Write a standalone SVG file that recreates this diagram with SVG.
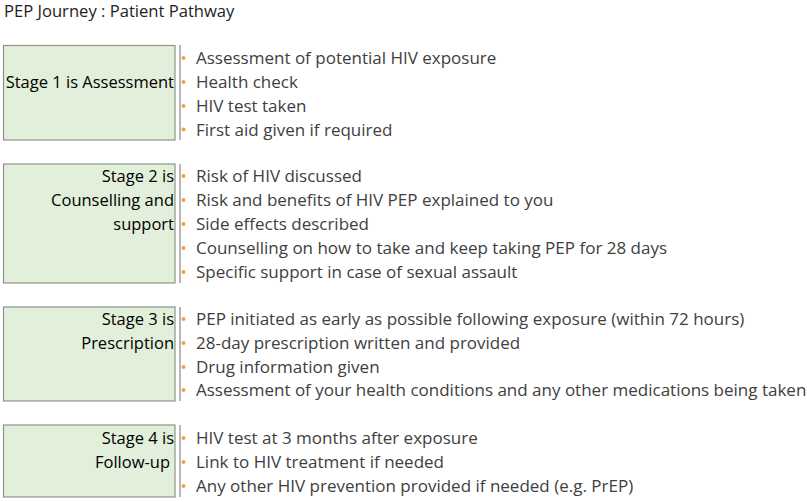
<svg xmlns="http://www.w3.org/2000/svg" width="807" height="502" viewBox="0 0 807 502">
<style>
.box{fill:#e2efda;stroke:#8c9488;stroke-width:1.2}
.sep{stroke:#a0a0a0;stroke-width:1.5}
.lbl{font-family:"Open Sans","Liberation Sans",sans-serif;font-size:16.5px;fill:#000;text-anchor:end}
.it{font-family:"Open Sans","Liberation Sans",sans-serif;font-size:17px;fill:#404040}
.bul{fill:#eda240}
.title{font-family:"Open Sans","Liberation Sans",sans-serif;font-size:16.6px;fill:#222}
</style>
<rect width="807" height="502" fill="#fff"/>
<text class="title" x="4" y="17">PEP Journey : Patient Pathway</text>

<g id="stage1">
<rect class="box" x="3.5" y="45.5" width="171.5" height="94.5"/>
<text class="lbl" x="174" y="88">Stage 1 is Assessment</text>
<line class="sep" x1="180" y1="45" x2="180" y2="140"/>
<circle class="bul" cx="183.5" cy="58" r="2"/><text class="it" x="196" y="64">Assessment of potential HIV exposure</text>
<circle class="bul" cx="183.5" cy="82" r="2"/><text class="it" x="196" y="88">Health check</text>
<circle class="bul" cx="183.5" cy="106" r="2"/><text class="it" x="196" y="112">HIV test taken</text>
<circle class="bul" cx="183.5" cy="129.5" r="2"/><text class="it" x="196" y="135.5">First aid given if required</text>
</g>

<g id="stage2">
<rect class="box" x="3.5" y="164" width="171.5" height="119"/>
<text class="lbl" x="174" y="182">Stage 2 is</text>
<text class="lbl" x="174" y="206">Counselling and</text>
<text class="lbl" x="174" y="230">support</text>
<line class="sep" x1="180" y1="164" x2="180" y2="283"/>
<circle class="bul" cx="183.5" cy="176" r="2"/><text class="it" x="196" y="182">Risk of HIV discussed</text>
<circle class="bul" cx="183.5" cy="200" r="2"/><text class="it" x="196" y="206">Risk and benefits of HIV PEP explained to you</text>
<circle class="bul" cx="183.5" cy="224" r="2"/><text class="it" x="196" y="230">Side effects described</text>
<circle class="bul" cx="183.5" cy="248" r="2"/><text class="it" x="196" y="254">Counselling on how to take and keep taking PEP for 28 days</text>
<circle class="bul" cx="183.5" cy="272" r="2"/><text class="it" x="196" y="278">Specific support in case of sexual assault</text>
</g>

<g id="stage3">
<rect class="box" x="3.5" y="307" width="171.5" height="94"/>
<text class="lbl" x="174" y="325">Stage 3 is</text>
<text class="lbl" x="174" y="349">Prescription</text>
<line class="sep" x1="180" y1="307" x2="180" y2="401"/>
<circle class="bul" cx="183.5" cy="319" r="2"/><text class="it" x="196" y="325">PEP initiated as early as possible following exposure (within 72 hours)</text>
<circle class="bul" cx="183.5" cy="343" r="2"/><text class="it" x="196" y="349">28-day prescription written and provided</text>
<circle class="bul" cx="183.5" cy="367" r="2"/><text class="it" x="196" y="373">Drug information given</text>
<circle class="bul" cx="183.5" cy="390" r="2"/><text class="it" x="196" y="396">Assessment of your health conditions and any other medications being taken</text>
</g>

<g id="stage4">
<rect class="box" x="3.5" y="425" width="171.5" height="72"/>
<text class="lbl" x="174" y="444">Stage 4 is</text>
<text class="lbl" x="170" y="468">Follow-up</text>
<line class="sep" x1="180" y1="425" x2="180" y2="497"/>
<circle class="bul" cx="183.5" cy="438" r="2"/><text class="it" x="196" y="444">HIV test at 3 months after exposure</text>
<circle class="bul" cx="183.5" cy="462" r="2"/><text class="it" x="196" y="468">Link to HIV treatment if needed</text>
<circle class="bul" cx="183.5" cy="486" r="2"/><text class="it" x="196" y="492">Any other HIV prevention provided if needed (e.g. PrEP)</text>
</g>
</svg>
